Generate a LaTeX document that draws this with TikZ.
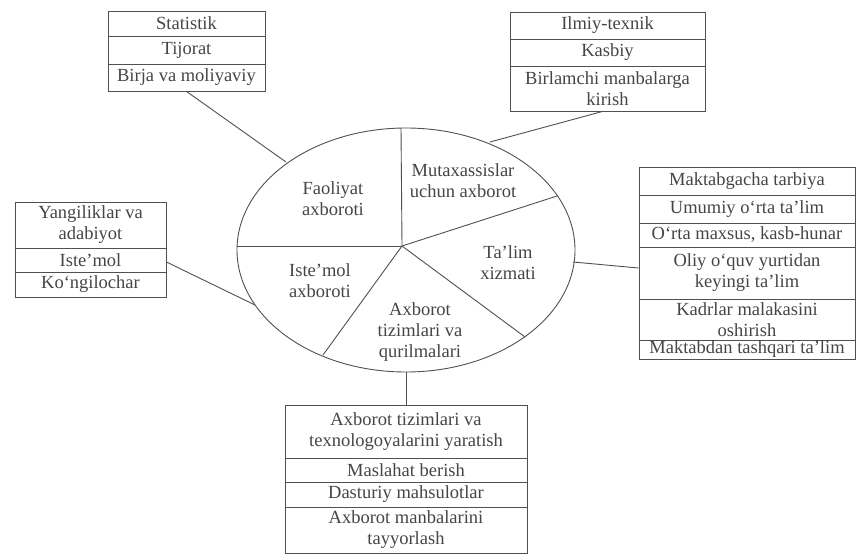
\documentclass[tikz,border=0pt]{standalone}
\usepackage{fontspec}
\setmainfont{Liberation Serif}
\definecolor{ink}{HTML}{454545}
\definecolor{linec}{HTML}{505050}
\begin{document}
\begin{tikzpicture}[x=1pt,y=-1pt,
  txt/.style={text=ink, font=\fontsize{18.5}{21}\selectfont},
  cell/.style={txt, draw=linec, line width=0.9pt, rectangle, inner sep=0pt, align=center},
  tlcell/.style={cell, minimum width=157pt},
  trcell/.style={cell, minimum width=195pt},
  lcell/.style={cell, minimum width=151pt},
  rcell/.style={cell, minimum width=216pt},
  bcell/.style={cell, minimum width=242pt},
  conn/.style={draw=linec, line width=0.9pt},
  lbl/.style={txt, align=center, inner sep=0pt}]
\useasboundingbox (0,0) rectangle (856,554);

% top-left box
\node[tlcell, minimum height=25pt] (tl1) at (186.5,23.5) {Statistik};
\node[tlcell, minimum height=28pt] (tl2) at (186.5,50) {Tijorat};
\node[tlcell, minimum height=27pt] (tl3) at (186.5,77.5) {Birja va moliyaviy};

% top-right box
\node[trcell, minimum height=27pt] (tr1) at (607.5,25.5) {Ilmiy-texnik};
\node[trcell, minimum height=27pt] (tr2) at (607.5,52.5) {Kasbiy};
\node[trcell, minimum height=45pt] (tr3) at (607.5,88.5) {Birlamchi manbalarga\\kirish};

% left box
\node[lcell, minimum height=46pt] (l1) at (90.5,225) {Yangiliklar va\\adabiyot};
\node[lcell, minimum height=24pt] (l2) at (90.5,260) {Iste’mol};
\node[lcell, minimum height=25pt] (l3) at (90.5,284.5) {Ko‘ngilochar};

% right box
\node[rcell, minimum height=28pt] (r1) at (747,181) {Maktabgacha tarbiya};
\node[rcell, minimum height=28pt] (r2) at (747,209) {Umumiy o‘rta ta’lim};
\node[rcell, minimum height=24pt] (r3) at (747,235) {O‘rta maxsus, kasb-hunar};
\node[rcell, minimum height=52pt] (r4) at (747,273) {Oliy o‘quv yurtidan\\keyingi ta’lim};
\node[rcell, minimum height=41pt] (r5) at (747,319.5) {Kadrlar malakasini\\oshirish};
\node[rcell, minimum height=19pt] (r6) at (747,349.5) {Maktabdan tashqari ta’lim};

% bottom box
\node[bcell, minimum height=53pt] (b1) at (406,431.5) {Axborot tizimlari va\\texnologoyalarini yaratish};
\node[bcell, minimum height=24pt] (b2) at (406,470) {Maslahat berish};
\node[bcell, minimum height=25pt] (b3) at (406,494.5) {Dasturiy mahsulotlar};
\node[bcell, minimum height=46pt] (b4) at (406,530) {Axborot manbalarini\\tayyorlash};

% ellipse (pie)
\draw[conn] (406,250) ellipse [x radius=169pt, y radius=122pt];
\coordinate (c) at (402,246);
\coordinate (pt) at (401,128);
\coordinate (pl) at (237,246);
\coordinate (pr) at (557,196);
\coordinate (pbr) at (525,337);
\coordinate (pbl) at (323,355);
\draw[conn] (c) -- (pt);
\draw[conn] (c) -- (pl);
\draw[conn] (c) -- (pr);
\draw[conn] (c) -- (pbr);
\draw[conn] (c) -- (pbl);

% sector labels
\node[lbl] (s1) at (333,199) {Faoliyat\\axboroti};
\node[lbl] (s2) at (463,181) {Mutaxassislar\\uchun axborot};
\node[lbl] (s3) at (508,263) {Ta’lim\\xizmati};
\node[lbl] (s4) at (320,281) {Iste’mol\\axboroti};
\node[lbl] (s5) at (420,332) {Axborot\\tizimlari va\\qurilmalari};

% connector ends on the ellipse
\coordinate (etl) at (286,162);
\coordinate (etr) at (490,142);
\coordinate (el) at (255,305);
\coordinate (er) at (573,262);
\coordinate (eb) at (406,372);

\draw[conn] (tl3.south) -- (etl);
\draw[conn] ([xshift=-5pt]tr3.south) -- (etr);
\draw[conn] ([yshift=-2pt]l2.east) -- (el);
\draw[conn] ([yshift=5pt]r4.west) -- (er);
\draw[conn] (b1.north) -- (eb);
\end{tikzpicture}
\end{document}
